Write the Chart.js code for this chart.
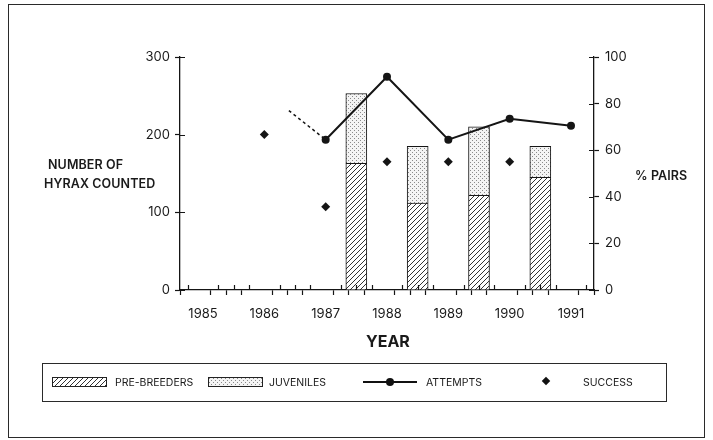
<!DOCTYPE html>
<html>
<head>
<meta charset="utf-8">
<script src="https://cdn.jsdelivr.net/npm/chart.js@4/dist/chart.umd.min.js"></script>
<style>
  html, body { margin: 0; padding: 0; background: #fff; }
  body { width: 713px; height: 440px; position: relative; overflow: hidden; font-family: Inter, "DejaVu Sans", sans-serif; color: #1a1a1a; }
  #chart { position: absolute; left: 0; top: 0; }
  .frame { position: absolute; left: 8px; top: 4px; width: 695px; height: 432px; border: 1.5px solid #2a2a2a; }
  .lbl { position: absolute; white-space: nowrap; }
  .ttl { font-weight: 600; font-size: 12.5px; letter-spacing: 0.1px; }
  .legend { position: absolute; left: 42px; top: 363px; width: 623px; height: 37px; border: 1.5px solid #2a2a2a; }
  .legend .txt { position: absolute; top: 12px; font-size: 10.5px; }
  .sw { position: absolute; top: 13px; width: 55px; height: 10px; border: 1px solid #222; box-sizing: border-box; }
</style>
</head>
<body>
<div class="frame"></div>
<canvas id="chart" width="713" height="440"></canvas>

<div class="lbl ttl" style="left:48px; top:157px;">NUMBER OF</div>
<div class="lbl ttl" style="left:44px; top:176px;">HYRAX COUNTED</div>
<div class="lbl ttl" style="left:635px; top:168px;">% PAIRS</div>
<div class="lbl" style="left:366px; top:331px; font-weight:700; font-size:16px;">YEAR</div>

<div class="legend">
  <div class="sw" id="swPre" style="left:9px;"></div>
  <div class="txt" style="left:72px;">PRE-BREEDERS</div>
  <div class="sw" id="swJuv" style="left:165px;"></div>
  <div class="txt" style="left:226px;">JUVENILES</div>
  <div style="position:absolute; left:320px; top:17px; width:54px; height:2px; background:#111;"></div>
  <div style="position:absolute; left:343px; top:14px; width:8px; height:8px; border-radius:50%; background:#111;"></div>
  <div class="txt" style="left:383px;">ATTEMPTS</div>
  <div style="position:absolute; left:500px; top:14px; width:6px; height:6px; background:#111; transform:rotate(45deg);"></div>
  <div class="txt" style="left:540px;">SUCCESS</div>
</div>

<script>
// values
const yearLabels = [1985, 1986, 1987, 1988, 1989, 1990, 1991];

const barYears = [1987.5, 1988.5, 1989.5, 1990.5];
const preBreeders = [163, 112, 122, 145];
const juveniles = [90, 73, 88, 40];

const attemptYears = [1987, 1988, 1989, 1990, 1991];
const attempts = [64.5, 91.5, 64.5, 73.5, 70.5];

// dashed lead-in before 1987
const earlyYears = [1986.4, 1987];
const earlyAttempts = [77, 64.5];

const successYears = [1986, 1987, 1988, 1989, 1990];
const success = [66.7, 35.7, 55, 55, 55];

const INK = '#151515';

function hatchTile() {
    const c = document.createElement('canvas');
    c.width = 5; c.height = 5;
    const g = c.getContext('2d');
    g.fillStyle = '#fff';
    g.fillRect(0, 0, 5, 5);
    g.strokeStyle = '#333';
    g.lineWidth = 1;
    g.beginPath();
    g.moveTo(-1, 6); g.lineTo(6, -1);
    g.moveTo(-1, 1); g.lineTo(1, -1);
    g.moveTo(4, 6); g.lineTo(6, 4);
    g.stroke();
    return c;
}

function stippleTile() {
    const c = document.createElement('canvas');
    c.width = 4; c.height = 4;
    const g = c.getContext('2d');
    g.fillStyle = '#f4f4f4';
    g.fillRect(0, 0, 4, 4);
    g.fillStyle = '#8a8a8a';
    g.fillRect(0, 0, 1, 1);
    g.fillRect(2, 2, 1, 1);
    return c;
}

const hatch = hatchTile();
const stipple = stippleTile();
document.getElementById('swPre').style.background = 'url(' + hatch.toDataURL() + ')';
document.getElementById('swJuv').style.background = 'url(' + stipple.toDataURL() + ')';

const ctx = document.getElementById('chart').getContext('2d');

const xTicks = [];
for (let v = yearLabels[0] - 0.25; v <= yearLabels[yearLabels.length - 1] + 0.25; v += 0.25) {
    xTicks.push({ value: Math.round(v * 100) / 100 });
}

// tick marks in the figure cross the axis line
const crossTicks = {
    id: 'crossTicks',
    afterDraw(chart) {
        const c = chart.ctx;
        const a = chart.chartArea;
        c.save();
        c.strokeStyle = INK;
        c.lineWidth = 1.2;
        c.beginPath();
        chart.scales.x.ticks.forEach(t => {
            if (Number.isInteger(t.value)) return;
            const px = Math.round(chart.scales.x.getPixelForValue(t.value)) + 0.5;
            c.moveTo(px, a.bottom - 5); c.lineTo(px, a.bottom);
        });
        chart.scales.y.ticks.forEach(t => {
            const py = Math.round(chart.scales.y.getPixelForValue(t.value)) + 0.5;
            c.moveTo(a.left, py); c.lineTo(a.left + 5, py);
        });
        chart.scales.y2.ticks.forEach(t => {
            const py = Math.round(chart.scales.y2.getPixelForValue(t.value)) + 0.5;
            c.moveTo(a.right - 5, py); c.lineTo(a.right, py);
        });
        c.stroke();
        c.restore();
    }
};

new Chart(ctx, {
    type: 'bar',
    data: {
        datasets: [
            {
                type: 'line',
                label: 'ATTEMPTS',
                data: attemptYears.map((x, i) => ({ x: x, y: attempts[i] })),
                yAxisID: 'y2',
                borderColor: INK,
                borderWidth: 2,
                backgroundColor: INK,
                pointRadius: 4,
                pointBackgroundColor: INK,
                pointBorderWidth: 0,
                tension: 0,
                order: 1
            },
            {
                type: 'line',
                label: 'early',
                data: earlyYears.map((x, i) => ({ x: x, y: earlyAttempts[i] })),
                yAxisID: 'y2',
                borderColor: INK,
                borderWidth: 1.5,
                borderDash: [3, 3],
                pointRadius: 0,
                order: 1
            },
            {
                type: 'line',
                label: 'SUCCESS',
                data: successYears.map((x, i) => ({ x: x, y: success[i] })),
                yAxisID: 'y2',
                showLine: false,
                pointStyle: 'rectRot',
                pointRadius: 4.5,
                pointBackgroundColor: INK,
                pointBorderWidth: 0,
                order: 1
            },
            {
                label: 'PRE-BREEDERS',
                data: barYears.map((x, i) => ({ x: x, y: preBreeders[i] })),
                backgroundColor: ctx.createPattern(hatch, 'repeat'),
                borderColor: INK,
                borderWidth: 1,
                barThickness: 21,
                stack: 'hyrax',
                order: 2
            },
            {
                label: 'JUVENILES',
                data: barYears.map((x, i) => ({ x: x, y: juveniles[i] })),
                backgroundColor: ctx.createPattern(stipple, 'repeat'),
                borderColor: INK,
                borderWidth: 1,
                barThickness: 21,
                stack: 'hyrax',
                order: 2
            }
        ]
    },
    options: {
        responsive: false,
        animation: false,
        layout: { padding: { left: 0, right: 0, top: 57, bottom: 118 } },
        plugins: {
            legend: { display: false },
            tooltip: { enabled: false }
        },
        scales: {
            x: {
                type: 'linear',
                stacked: true,
                min: 1984.75,
                max: 1991.25,
                afterBuildTicks: scale => { scale.ticks = xTicks.slice(); },
                afterFit: scale => { scale.height = 32; },
                border: { color: INK, width: 1.3 },
                grid: {
                    drawOnChartArea: false,
                    tickLength: 5,
                    tickWidth: 1.2,
                    tickColor: c => (c.tick && Number.isInteger(c.tick.value)) ? 'rgba(0,0,0,0)' : INK
                },
                ticks: {
                    autoSkip: false,
                    maxRotation: 0,
                    padding: 11,
                    color: '#1a1a1a',
                    font: { family: 'Inter', size: 13 },
                    callback: v => Number.isInteger(v) ? String(v) : ''
                }
            },
            y: {
                stacked: true,
                min: 0,
                max: 300,
                afterFit: scale => { scale.width = 180; },
                border: { color: INK, width: 1.3 },
                grid: { drawOnChartArea: false, tickLength: 5, tickWidth: 1.2, tickColor: INK },
                ticks: { stepSize: 100, padding: 5, color: '#1a1a1a', font: { family: 'Inter', size: 13 } }
            },
            y2: {
                position: 'right',
                min: 0,
                max: 100,
                afterFit: scale => { scale.width = 119; },
                border: { color: INK, width: 1.3 },
                grid: { drawOnChartArea: false, tickLength: 5, tickWidth: 1.2, tickColor: INK },
                ticks: { stepSize: 20, padding: 6, color: '#1a1a1a', font: { family: 'Inter', size: 13 } }
            }
        }
    },
    plugins: [crossTicks]
});
</script>
</body>
</html>
